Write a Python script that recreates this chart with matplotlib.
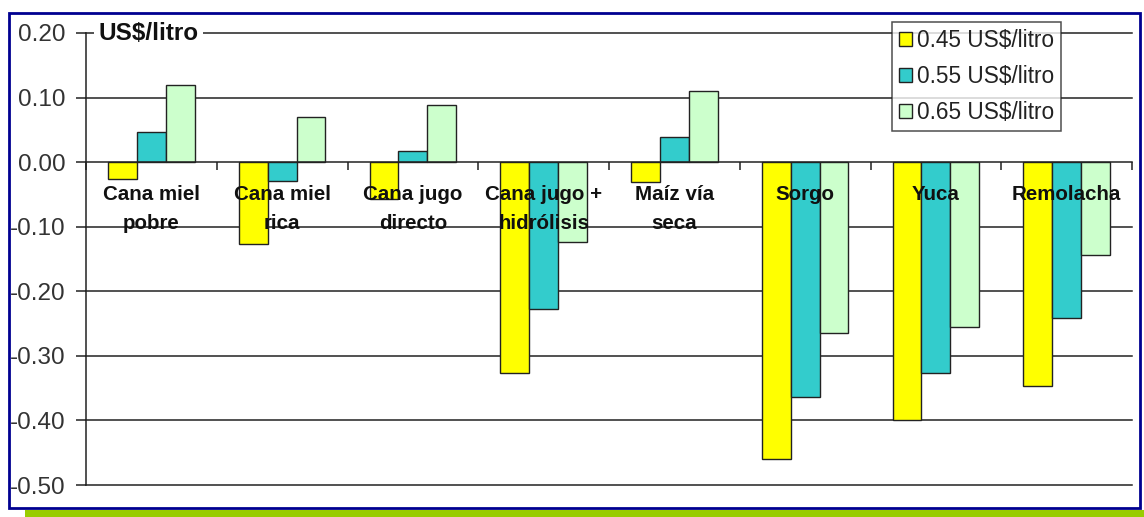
import numpy as np
import matplotlib.pyplot as plt
from matplotlib.patches import Rectangle

plt.rcParams['font.family'] = ['Liberation Sans', 'DejaVu Sans']

# datos
categorias = ['Cana miel\npobre', 'Cana miel\nrica', 'Cana jugo\ndirecto',
              'Cana jugo +\nhidrólisis', 'Maíz vía\nseca', 'Sorgo', 'Yuca', 'Remolacha']
series = ['0.45 US$/litro', '0.55 US$/litro', '0.65 US$/litro']
v045 = [-0.026, -0.127, -0.057, -0.327, -0.030, -0.460, -0.400, -0.346]
v055 = [0.046, -0.029, 0.017, -0.228, 0.039, -0.363, -0.327, -0.242]
v065 = [0.119, 0.070, 0.088, -0.124, 0.110, -0.264, -0.256, -0.144]
ticks_y = [-0.5, -0.4, -0.3, -0.2, -0.1, 0.0, 0.1, 0.2]
colores = ['#FFFF00', '#33CCCC', '#CCFFCC']

W, H = 1144, 517
fig = plt.figure(figsize=(W / 100, H / 100), dpi=100)

# marco azul y franja verde
fig.patches.append(Rectangle((9 / W, 1 - 508 / H), 1131 / W, 495 / H, fill=False,
                             edgecolor='#000090', lw=2, transform=fig.transFigure))
fig.patches.append(Rectangle((25 / W, 0), 1 - 25 / W, 7 / H, facecolor='#99CC00',
                             edgecolor='none', transform=fig.transFigure))

ax = fig.add_axes([86 / W, 1 - 485 / H, 1046 / W, 452 / H])

x = np.arange(len(categorias))
ancho = 0.22
for i, (vals, c, s) in enumerate(zip([v045, v055, v065], colores, series)):
    ax.bar(x + (i - 1) * ancho, vals, ancho, color=c, edgecolor='#222222',
           lw=1, label=s, zorder=2)

for yv in ticks_y:
    if yv != 0.0:
        ax.axhline(yv, color='#222222', lw=1.1, zorder=1, clip_on=False)

ax.set_xlim(-0.5, len(categorias) - 0.5)
ax.set_ylim(-0.5, 0.2)
ax.set_yticks(ticks_y)
ax.set_yticklabels([f'{v:.2f}' for v in ticks_y])
ax.tick_params(axis='y', length=7, width=1.1, color='#222222', pad=8,
               labelsize=17.5, labelcolor='#333333')

ax.set_xticks(np.arange(-0.5, len(categorias), 1))
ax.set_xticklabels([])
ax.tick_params(axis='x', length=6, width=1.1, color='#222222')
ax.spines['bottom'].set_position(('data', 0))
ax.spines['bottom'].set_color('#222222')
ax.spines['bottom'].set_linewidth(1.1)
ax.spines['bottom'].set_zorder(3)
ax.spines['left'].set_color('#222222')
ax.spines['left'].set_linewidth(1.1)
ax.spines['top'].set_visible(False)
ax.spines['right'].set_visible(False)

for xi, cat in zip(x, categorias):
    ax.text(xi, -0.035, cat, ha='center', va='top', fontsize=14.8,
            fontweight='bold', color='#111111', linespacing=1.66, zorder=5)

ax.text(0.012, 1.0, 'US$/litro', transform=ax.transAxes, ha='left', va='center',
        fontsize=17.5, fontweight='bold', color='#111111', zorder=6,
        bbox=dict(facecolor='white', edgecolor='none', pad=3))

leg = ax.legend(loc='upper right', bbox_to_anchor=(0.932, 1.024), borderaxespad=0,
                fontsize=16.3, frameon=True, fancybox=False, handlelength=0.6,
                handleheight=0.6, handletextpad=0.2, labelspacing=0.57,
                borderpad=0.3, labelcolor='#222222')
leg.get_frame().set_edgecolor('#222222')
leg.get_frame().set_linewidth(1.1)
leg.set_zorder(6)

fig.savefig('out.png', dpi=100)
